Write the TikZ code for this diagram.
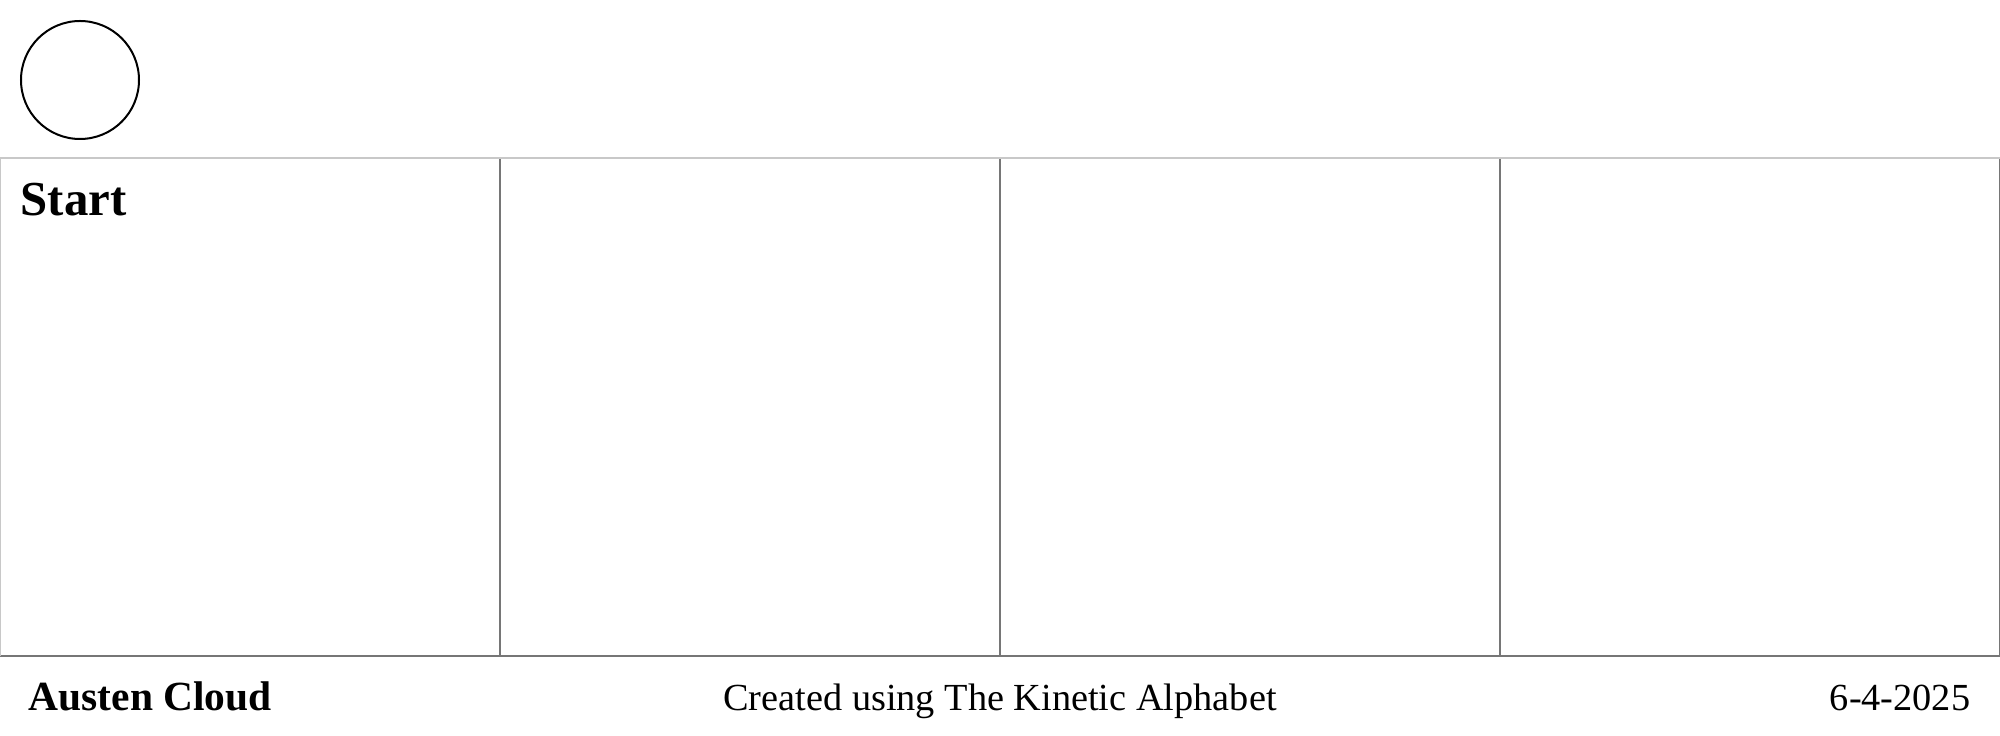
\documentclass[tikz,border=0pt]{standalone}
\usepackage{fontspec}
\setmainfont{Liberation Serif}
\usetikzlibrary{positioning}
\definecolor{edgedark}{HTML}{767676}
\definecolor{edgelight}{HTML}{C8C8C8}
\tikzset{panel/.style={draw=none,minimum width=500*0.1mm,minimum height=498*0.1mm,inner sep=0pt,outer sep=0pt},dark/.style={edgedark,line width=0.15mm},light/.style={edgelight,line width=0.15mm},foot/.style={inner sep=0pt,anchor=base,font=\fontsize{10.9pt}{13pt}\selectfont}}
\begin{document}
\begin{tikzpicture}[x=0.1mm,y=-0.1mm]
\useasboundingbox (0,0) rectangle (2000,736);
\node[circle,draw=black,line width=0.2mm,minimum size=118*0.1mm,inner sep=0pt] (marker) at (80,80) {};
\foreach \n/\xx in {p1/250,p2/750,p3/1250,p4/1750}{\node[panel] (\n) at (\xx,407) {};}
\foreach \n in {p1,p2,p3,p4}{\draw[dark](\n.north east)--(\n.south east)--(\n.south west);}
\draw[light](p1.south west)--(p1.north west)--(p4.north east);
\node[inner sep=0pt,anchor=base west,font=\bfseries\fontsize{13.9pt}{16pt}\selectfont] (start) at (20,216) {Start};
\node[foot,anchor=base west,font=\bfseries\fontsize{11.8pt}{13pt}\selectfont] (author) at (28,711) {Austen Cloud};
\node[foot] (credit) at (1000,711) {Created using The Kinetic Alphabet};
\node[foot,anchor=base east] (date) at (1971,711) {6-4-2025};
\end{tikzpicture}
\end{document}
